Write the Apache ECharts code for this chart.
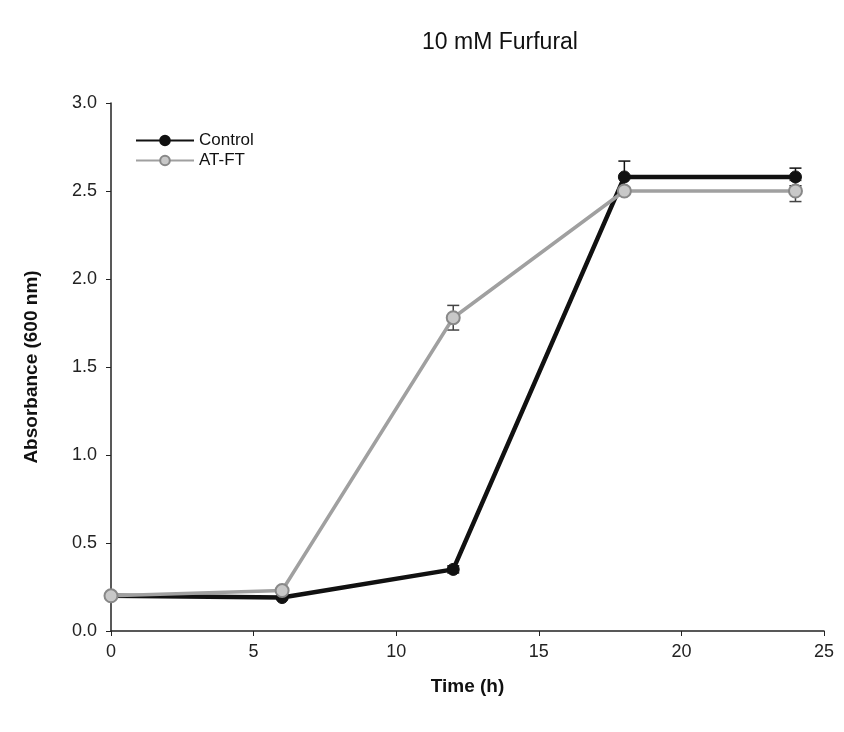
<!DOCTYPE html>
<html>
<head>
<meta charset="utf-8">
<script src="https://cdn.jsdelivr.net/npm/echarts@6/dist/echarts.min.js"></script>
<style>html,body{margin:0;padding:0;background:#fff}#c{width:844px;height:732px}</style>
</head>
<body>
<div id="c"></div>
<script>
const times = [0, 6, 12, 18, 24];
const controlValues = [0.20, 0.19, 0.35, 2.58, 2.58];
const controlErrors = [0.01, 0.01, 0.02, 0.09, 0.05];
const atftValues = [0.20, 0.23, 1.78, 2.50, 2.50];
const atftErrors = [0.01, 0.01, 0.07, 0.02, 0.06];
const xTicks = [0, 5, 10, 15, 20, 25];
const yTicks = [0.0, 0.5, 1.0, 1.5, 2.0, 2.5, 3.0];

const chart = echarts.init(document.getElementById('c'));
function errSeries(vals, errs, color) {
  return {
    type: 'custom',
    silent: true,
    z: 1,
    data: times.map((t, i) => [t, vals[i] - errs[i], vals[i] + errs[i]]),
    renderItem: function (params, api) {
      const lo = api.coord([api.value(0), api.value(1)]);
      const hi = api.coord([api.value(0), api.value(2)]);
      const w = 6;
      const st = { stroke: color, lineWidth: 1.5 };
      return { type: 'group', children: [
        { type: 'line', shape: { x1: lo[0], y1: lo[1], x2: hi[0], y2: hi[1] }, style: st },
        { type: 'line', shape: { x1: lo[0] - w, y1: lo[1], x2: lo[0] + w, y2: lo[1] }, style: st },
        { type: 'line', shape: { x1: hi[0] - w, y1: hi[1], x2: hi[0] + w, y2: hi[1] }, style: st }
      ]};
    }
  };
}
chart.setOption({
  animation: false,
  backgroundColor: '#fff',
  title: {
    text: '10 mM Furfural', left: 495, top: 26, textAlign: 'center',
    textStyle: { fontFamily: 'Liberation Sans', fontSize: 23, fontWeight: 'normal', color: '#111' }
  },
  legend: {
    left: 130, top: 127, orient: 'vertical', itemWidth: 58, itemHeight: 12, itemGap: 3,
    textStyle: { fontFamily: 'Liberation Sans', fontSize: 17, color: '#111' },
    data: ['Control', 'AT-FT']
  },
  grid: { left: 111, right: 20, top: 103, bottom: 101, containLabel: false },
  xAxis: {
    type: 'value', min: 0, max: 25, interval: 5,
    name: 'Time (h)', nameLocation: 'middle', nameGap: 46,
    nameTextStyle: { fontFamily: 'Liberation Sans', fontSize: 19, fontWeight: 'bold', color: '#111' },
    axisLine: { lineStyle: { color: '#222', width: 1.5 } },
    axisTick: { show: true, length: 5, lineStyle: { color: '#222' } },
    axisLabel: { fontFamily: 'Liberation Sans', fontSize: 18, color: '#222', margin: 12,
      formatter: v => xTicks.includes(v) ? String(v) : '' },
    splitLine: { show: false }
  },
  yAxis: {
    type: 'value', min: 0, max: 3, interval: 0.5,
    name: 'Absorbance (600 nm)', nameLocation: 'middle', nameGap: 70, nameRotate: 90,
    nameTextStyle: { fontFamily: 'Liberation Sans', fontSize: 19, fontWeight: 'bold', color: '#111' },
    axisLine: { show: true, lineStyle: { color: '#222', width: 1.5 } },
    axisTick: { show: true, length: 5, lineStyle: { color: '#222' } },
    axisLabel: { fontFamily: 'Liberation Sans', fontSize: 18, color: '#222', margin: 14,
      formatter: v => yTicks.find(t => Math.abs(t - v) < 1e-9) !== undefined ? v.toFixed(1) : '' },
    splitLine: { show: false }
  },
  series: [
    errSeries(controlValues, controlErrors, '#111'),
    errSeries(atftValues, atftErrors, '#444'),
    {
      name: 'Control', type: 'line', z: 2,
      data: times.map((t, i) => [t, controlValues[i]]),
      symbol: 'circle', symbolSize: 12,
      lineStyle: { color: '#111', width: 4.5 },
      itemStyle: { color: '#111', borderColor: '#111', borderWidth: 1 }
    },
    {
      name: 'AT-FT', type: 'line', z: 3,
      data: times.map((t, i) => [t, atftValues[i]]),
      symbol: 'circle', symbolSize: 13,
      lineStyle: { color: '#a0a0a0', width: 3.5 },
      itemStyle: { color: '#c8c8c8', borderColor: '#888', borderWidth: 2 }
    }
  ]
});
</script>
</body>
</html>
